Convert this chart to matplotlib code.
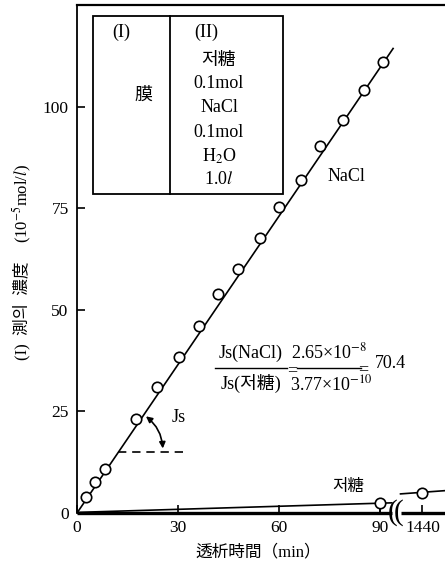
import numpy as np
import matplotlib
matplotlib.use("Agg")
import matplotlib.pyplot as plt
from matplotlib.patches import Rectangle, FancyArrowPatch
from matplotlib.lines import Line2D

plt.rcParams['font.family'] = ['Liberation Serif', 'Noto Sans CJK KR']
plt.rcParams['mathtext.fontset'] = 'stix'

# data (time in min, concentration in 1e-5 mol/l)
nacl_t = [2.6, 5.3, 8.4, 17.4, 23.8, 30.3, 36.2, 41.9, 47.9, 54.4, 60.0, 66.4, 72.2, 78.8, 85.2, 90.9]
nacl_c = [4.0, 7.7, 10.9, 23.2, 31.1, 38.3, 46.1, 53.8, 60.0, 67.7, 75.3, 82.0, 90.4, 96.6, 104.2, 110.9]
nacl_fit_t = [0, 93.8]
nacl_fit_c = [0, 114.3]

sucrose_t = [90, 1440]
sucrose_c = [2.4, 4.9]

x_ticks = [0, 30, 60, 90, 1440]
y_ticks = [0, 25, 50, 75, 100]

U_1440 = 102.5  # where 1440 min sits on the broken axis
BREAK = (93.7, 95.4)
X_MAX = 109.2


def to_u(t):
    return [v if v <= 90 else U_1440 for v in t]


W, H = 445, 570
fig = plt.figure(figsize=(W / 100, H / 100), dpi=100)
ax = fig.add_axes([77 / W, 57 / H, (W - 77) / W, 508 / H])


def px(x, y):
    return x / W, 1 - y / H


ax.set_xlim(0, X_MAX)
ax.set_ylim(0, 125)
ax.spines['right'].set_visible(False)
ax.spines['bottom'].set_visible(False)
ax.spines['top'].set_linewidth(1.6)
ax.spines['left'].set_linewidth(1.3)

# broken bottom axis
xt = ax.get_xaxis_transform()
ax.plot([0, BREAK[0] - 0.3], [0, 0], transform=xt, color='black', lw=2.4, clip_on=False, solid_capstyle='butt')
ax.plot([BREAK[1] + 0.6, X_MAX], [0, 0], transform=xt, color='black', lw=2.4, clip_on=False, solid_capstyle='butt')
for b in BREAK:
    ax.text(b, 0, '(', transform=xt, fontsize=21, ha='center', va='center')

ax.set_xticks(to_u(x_ticks))
ax.set_xticklabels([str(v) for v in x_ticks])
ax.set_yticks(y_ticks)
ax.tick_params(direction='in', length=6, width=1.2, labelsize=12.5, pad=5)
ax.tick_params(axis='y', pad=6)

# NaCl
ax.plot(nacl_fit_t, nacl_fit_c, color='black', lw=1.2)
ax.plot(nacl_t, nacl_c, 'o', ms=7.5, mfc='white', mec='black', mew=1.2)

# sucrose
ax.plot([0, BREAK[0] - 0.3], [0.15, 2.5], color='black', lw=1.2)
ax.plot([BREAK[1] + 0.6, X_MAX], [4.7, 5.5], color='black', lw=1.2)
ax.plot(to_u(sucrose_t), sucrose_c, 'o', ms=7.5, mfc='white', mec='black', mew=1.2, zorder=5)
ax.plot([90, 90], [0, sucrose_c[0]], color='black', lw=1.2)

fig.text(*px(348, 487), '저糖', fontsize=12, ha='center', va='center')
fig.text(*px(346, 176), 'NaCl', fontsize=13, ha='center', va='center')

# Js angle
ax.plot([12.3, 31.5], [15, 15], color='black', lw=1.2, ls=(0, (5, 3.5)))
arr = FancyArrowPatch((19.8, 24.2), (25.5, 15.2), arrowstyle='<|-|>', mutation_scale=9,
                      connectionstyle='arc3,rad=-0.25', color='black', lw=1.2)
ax.add_patch(arr)
fig.text(*px(179, 418), 'Js', fontsize=13, ha='center', va='center')

# ratio annotation
fig.text(*px(251, 353), 'Js(NaCl)', fontsize=13, ha='center', va='center')
fig.text(*px(251, 383), 'Js(저糖)', fontsize=13, ha='center', va='center')
fig.text(*px(292, 371), '=', fontsize=13, ha='center', va='center')
fig.text(*px(329, 352), '2.65×10$^{-8}$', fontsize=13, ha='center', va='center')
fig.text(*px(331, 384), '3.77×10$^{-10}$', fontsize=13, ha='center', va='center')
fig.text(*px(363, 370), '=', fontsize=13, ha='center', va='center')
fig.text(*px(390, 364), '70.4', fontsize=13, ha='center', va='center')
for x0, x1 in [(215, 287), (297, 361)]:
    fig.add_artist(Line2D([x0 / W, x1 / W], [1 - 368 / H] * 2, color='black', lw=1.0))

# inset table
fig.add_artist(Rectangle(px(93, 194), (283 - 93) / W, (194 - 16) / H, fill=False, ec='black', lw=1.3))
fig.add_artist(Line2D([170 / W] * 2, [1 - 16 / H, 1 - 194 / H], color='black', lw=1.3))
fig.text(*px(121, 32), '(I)', fontsize=13, ha='center', va='center')
fig.text(*px(143, 95), '膜', fontsize=13, ha='center', va='center')
right_col = [('(II)', 32), ('저糖', 60), ('0.1mol', 83), ('NaCl', 108), ('0.1mol', 132), ('H$_2$O', 156), ('1.0$l$', 180)]
for s, y in right_col:
    fig.text(*px(219 if s != '(II)' else 206, y), s, fontsize=13, ha='center', va='center')

fig.text(*px(258, 552), '透析時間（min）', fontsize=12, ha='center', va='center')
# y label in two pieces: mathtext cannot fall back to the CJK font
fig.text(*px(22, 311), '(I)  測의  濃度', fontsize=12, rotation=90, ha='center', va='center')
fig.text(*px(22, 203), '(10$^{-5}$mol/$l$)', fontsize=12, rotation=90, ha='center', va='center')

fig.savefig('out.png', dpi=100)
